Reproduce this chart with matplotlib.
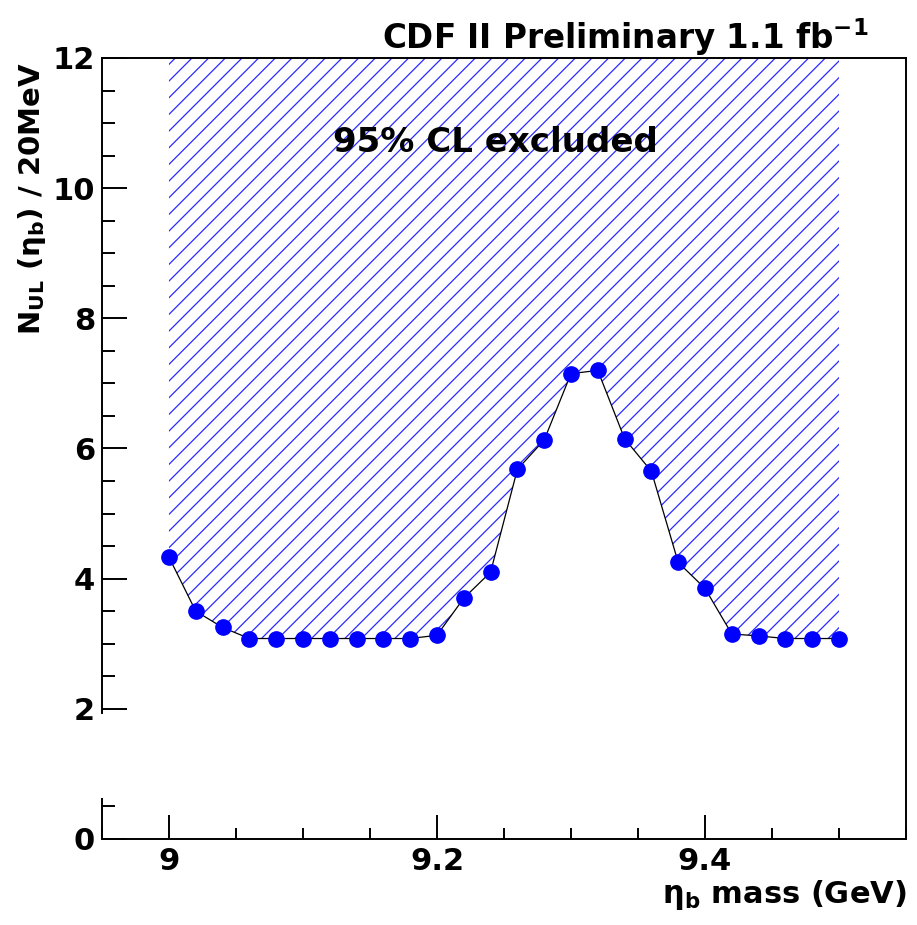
import numpy as np
import matplotlib
matplotlib.use("Agg")
import matplotlib.pyplot as plt
from matplotlib.ticker import FixedLocator, MultipleLocator

# eta_b mass scan points (GeV) and 95% CL upper limit on N per 20 MeV
mass = [9.00, 9.02, 9.04, 9.06, 9.08, 9.10, 9.12, 9.14, 9.16, 9.18, 9.20,
        9.22, 9.24, 9.26, 9.28, 9.30, 9.32, 9.34, 9.36, 9.38, 9.40, 9.42,
        9.44, 9.46, 9.48, 9.50]
n_ul = [4.33, 3.50, 3.25, 3.08, 3.08, 3.08, 3.08, 3.08, 3.08, 3.08, 3.13,
        3.70, 4.10, 5.68, 6.13, 7.15, 7.20, 6.15, 5.65, 4.25, 3.85, 3.15,
        3.12, 3.08, 3.08, 3.08]
y_top = 12

x_major = [9.0, 9.2, 9.4]
x_labels = ["9", "9.2", "9.4"]
y_major = [0, 2, 4, 6, 8, 10, 12]

plt.rcParams["font.family"] = "DejaVu Sans"
plt.rcParams["font.weight"] = "bold"
plt.rcParams["mathtext.fontset"] = "dejavusans"
plt.rcParams["hatch.linewidth"] = 0.9

fig = plt.figure(figsize=(9.17, 9.25), dpi=100)
ax = fig.add_axes([0.1112, 0.0930, 0.8768, 0.8443])

# excluded region above the limit curve
ax.fill_between(mass, n_ul, y_top, facecolor="none", edgecolor="#2a2aff",
                hatch="//", linewidth=0)
ax.plot(mass, n_ul, color="black", lw=0.9, marker="o", ms=11,
        mfc="#0000ff", mec="#0000ff", zorder=3)

ax.set_xlim(8.95, 9.55)
ax.set_ylim(0, 12)

ax.xaxis.set_major_locator(FixedLocator(x_major))
ax.set_xticklabels(x_labels)
ax.xaxis.set_minor_locator(MultipleLocator(0.05))
ax.yaxis.set_major_locator(FixedLocator(y_major))
y_minor = [0.5] + [v for v in np.arange(2.5, 12, 0.5) if v % 2 != 0]
ax.yaxis.set_minor_locator(FixedLocator(y_minor))

ax.tick_params(which="both", direction="in", top=False, right=False,
               width=1.4, labelsize=22)
ax.tick_params(axis="x", which="major", length=17, pad=6)
ax.tick_params(axis="x", which="minor", length=8)
ax.tick_params(axis="y", which="major", length=18, pad=5)
ax.tick_params(axis="y", which="minor", length=9.5)
for lab in ax.get_xticklabels() + ax.get_yticklabels():
    lab.set_fontweight("bold")

for s in ax.spines.values():
    s.set_linewidth(1.4)
# left axis line is broken between ~0.6 and 2
ax.spines["left"].set_bounds(1.93, 12)
ax.plot([0, 0], [0, 0.63], transform=ax.get_yaxis_transform(),
        color="black", lw=1.4, clip_on=False, solid_capstyle="butt")

ax.text(0.4888, 0.8796, "95% CL excluded", transform=ax.transAxes,
        ha="center", va="baseline", fontsize=24.5, fontweight="bold")

fig.text(0.9466, 0.947, r"CDF II Preliminary 1.1 fb$^{\mathbf{-1}}$",
         ha="right", va="baseline", fontsize=23.5, fontweight="bold")
fig.text(0.989, 0.0238, r"$\mathrm{\eta}_{\mathbf{b}}$ mass (GeV)",
         ha="right", va="baseline", fontsize=22, fontweight="bold")
fig.text(0.0175, 1 - 62 / 925,
         r"$\mathbf{N_{UL}}$ $(\mathrm{\eta}_{\mathbf{b}})$ / 20MeV",
         rotation=90, ha="left", va="top", fontsize=21, fontweight="bold")

fig.savefig("out.png", dpi=100)
